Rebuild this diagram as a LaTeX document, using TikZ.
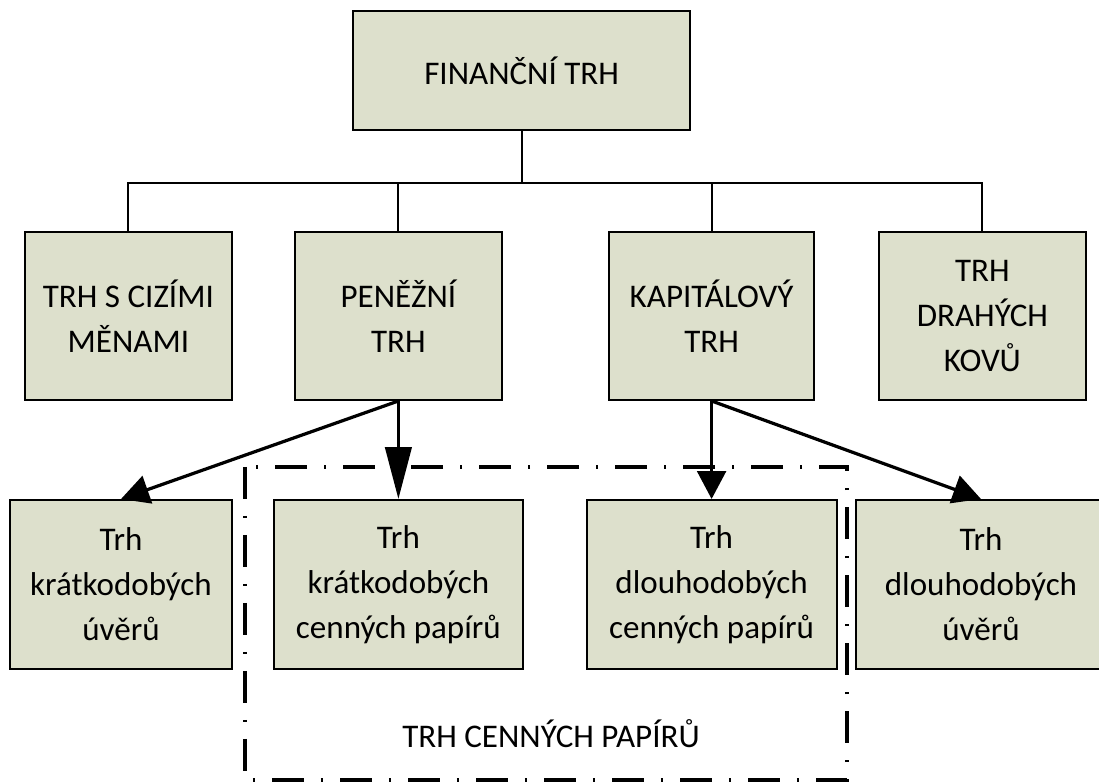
\documentclass[tikz,border=0pt]{standalone}
\usepackage{fontspec}
\setmainfont{Carlito}
\usepackage{tikz}
\usetikzlibrary{arrows.meta}
\definecolor{boxfill}{RGB}{221,224,204}

\begin{document}
\begin{tikzpicture}[
  box/.style={draw, line width=1.4pt, fill=boxfill, align=center, inner sep=0pt,
    font=\fontsize{23.5}{32}\selectfont},
  tree/.style={line width=1.4pt},
  arr/.style={line width=2.3pt, -{Triangle[length=0.7cm,width=0.72cm]}},
  longarr/.style={line width=2.3pt, -{Triangle[length=1.3cm,width=0.66cm]}},
  cpframe/.style={line width=2.8pt, dash pattern=on 0.8cm off 0.42cm on 0.05cm off 0.43cm}
]
\useasboundingbox (0,0) rectangle (27.475,19.575);
% top
\node[box, minimum width=8.425cm, minimum height=2.975cm] (fin) at (13.04,17.81) {FINANČNÍ TRH};
% second row
\node[box, minimum width=5.175cm, minimum height=4.2cm] (cizi) at (3.21,11.675) {TRH S CIZÍMI\\MĚNAMI};
\node[box, minimum width=5.175cm, minimum height=4.2cm] (penez) at (9.96,11.675) {PENĚŽNÍ\\TRH};
\node[box, minimum width=5.125cm, minimum height=4.2cm] (kapit) at (17.79,11.675) {KAPITÁLOVÝ\\TRH};
\node[box, minimum width=5.175cm, minimum height=4.2cm] (kovy) at (24.56,11.675) {TRH\\DRAHÝCH\\KOVŮ};
\foreach \c in {cizi,penez,kapit,kovy}
  \draw[tree] (fin.south) -- ++(0,-1.3) -| (\c.north);
% securities frame
\draw[cpframe] (6.125,7.9) rectangle (21.175,0.075);
\node[font=\fontsize{23.5}{32}\selectfont] (cpl) at (13.775,1.225) {TRH CENNÝCH PAPÍRŮ};
% third row
\node[box, minimum width=5.55cm, minimum height=4.225cm] (kruv) at (3.025,4.9625) {Trh\\krátkodobých\\úvěrů};
\node[box, minimum width=6.225cm, minimum height=4.225cm] (krcp) at (9.96,4.9625) {Trh\\krátkodobých\\cenných papírů};
\node[box, minimum width=6.25cm, minimum height=4.225cm] (dlcp) at (17.79,4.9625) {Trh\\dlouhodobých\\cenných papírů};
\node[box, minimum width=6.25cm, minimum height=4.225cm] (dluv) at (24.525,4.9625) {Trh\\dlouhodobých\\úvěrů};
\draw[arr] (penez.south) -- (kruv.north);
\draw[longarr] (penez.south) -- (krcp.north);
\draw[arr] (kapit.south) -- (dlcp.north);
\draw[arr] (kapit.south) -- (dluv.north);
\end{tikzpicture}
\end{document}
